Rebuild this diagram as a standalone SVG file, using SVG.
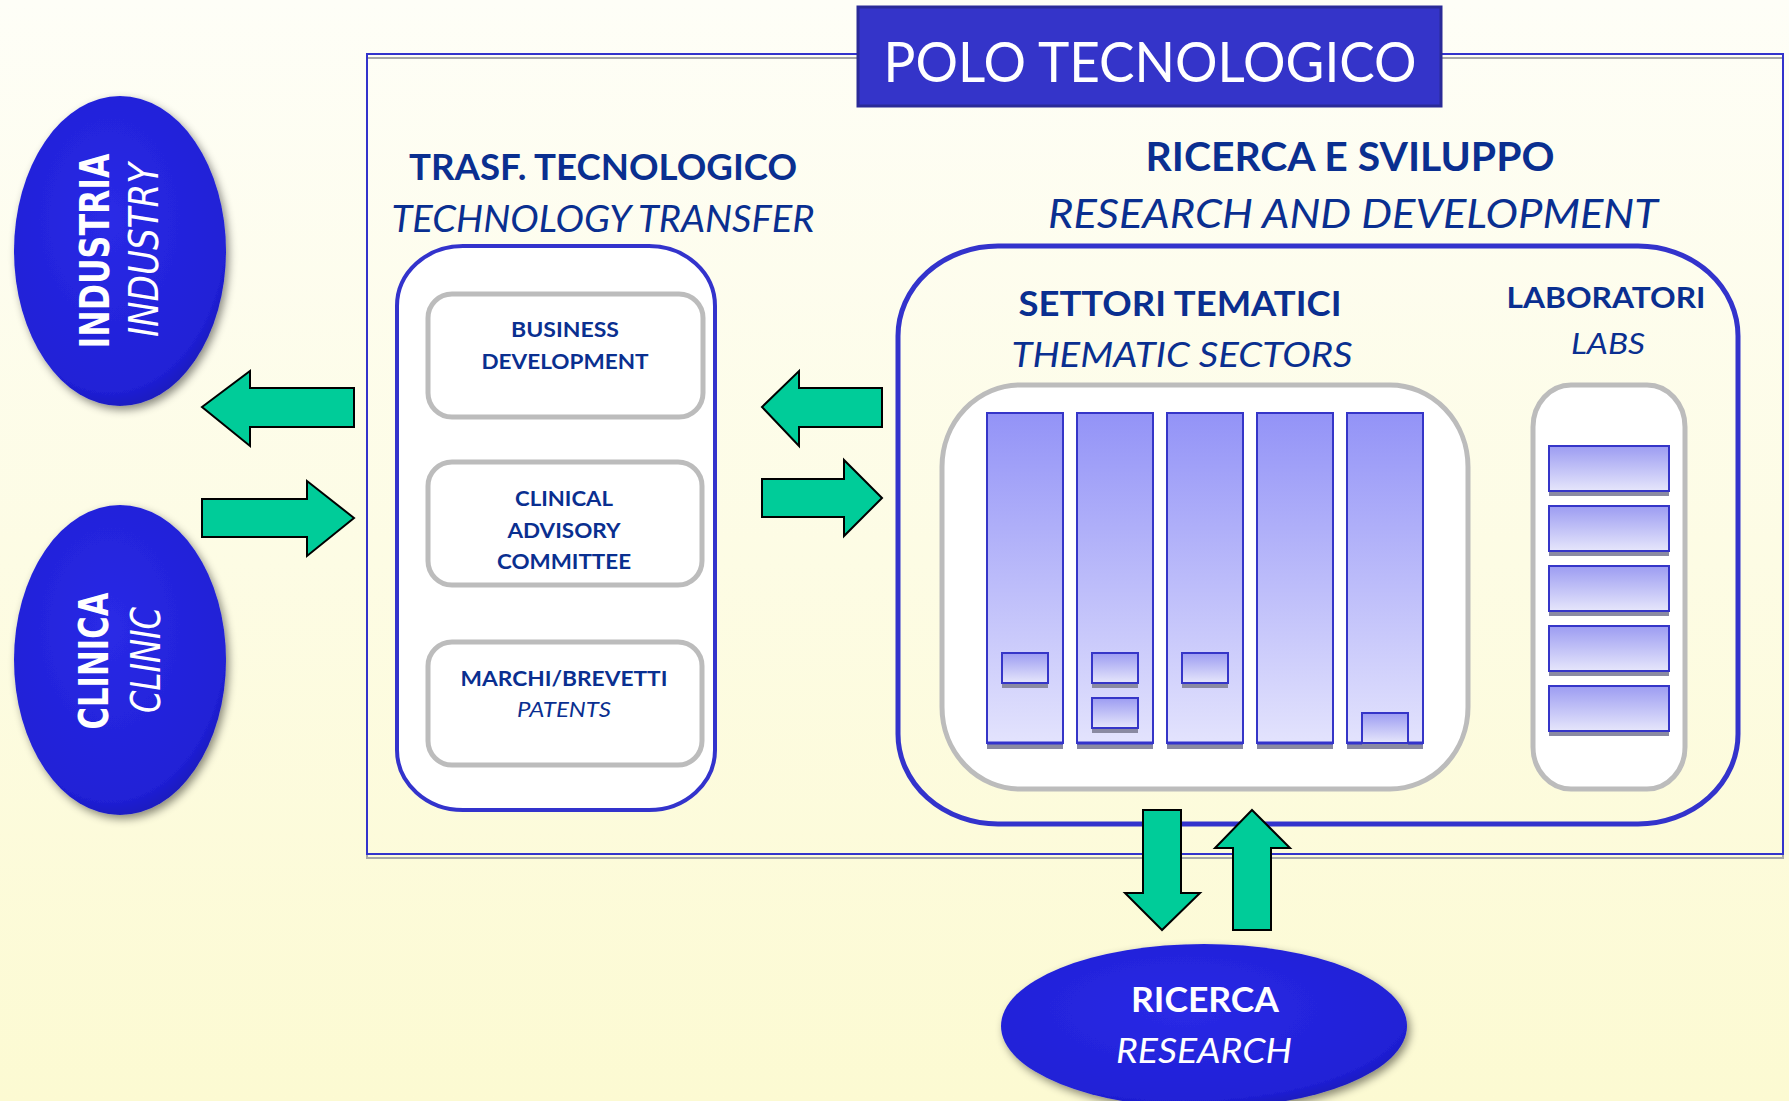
<svg xmlns="http://www.w3.org/2000/svg" width="1789" height="1101" viewBox="0 0 1789 1101">
<defs>
<linearGradient id="bg" x1="0" y1="0" x2="0" y2="1"><stop offset="0" stop-color="#fefef7"/><stop offset="1" stop-color="#fcfad2"/></linearGradient>
<linearGradient id="col" x1="0" y1="0" x2="0" y2="1"><stop offset="0" stop-color="#9393f7"/><stop offset="1" stop-color="#e3e3fd"/></linearGradient>
<linearGradient id="sq" x1="0" y1="0" x2="0" y2="1"><stop offset="0" stop-color="#9c9cf2"/><stop offset="1" stop-color="#e6e6fb"/></linearGradient>
<radialGradient id="ell" cx="0.45" cy="0.4" r="0.65"><stop offset="0" stop-color="#2a2ae6"/><stop offset="0.85" stop-color="#2020d6"/><stop offset="1" stop-color="#1818b0"/></radialGradient>
<filter id="sh" x="-20%" y="-20%" width="140%" height="140%"><feDropShadow dx="3" dy="4" stdDeviation="4" flood-color="#000" flood-opacity="0.45"/></filter>
<style>
.t{font-family:Lato,"Open Sans","Liberation Sans",sans-serif;fill:#0a2f90;text-anchor:middle}
.b{font-weight:bold}
.i{font-style:italic}
.w{fill:#ffffff}
.e{font-family:"DejaVu Sans",Verdana,sans-serif;fill:#ffffff;text-anchor:middle;font-size:40px}
.arr{fill:#00cc99;stroke:#000;stroke-width:2;stroke-linejoin:miter}
.col{fill:url(#col);stroke:#3535c8;stroke-width:2}
.sq{fill:url(#sq);stroke:#3535c8;stroke-width:2}
.shd{fill:#8a8aa2}
.gbox{fill:#ffffff;stroke:#bcbcbc;stroke-width:5}
.bbox{fill:#ffffff;stroke:#3333cc;stroke-width:4}
</style>
</defs>
<rect x="0" y="0" width="1789" height="1101" fill="url(#bg)"/>

<g id="polo-frame">
<rect x="367" y="58" width="1416" height="800" fill="none" stroke="#a8a8a8" stroke-width="2"/>
<rect x="367" y="54" width="1416" height="800" fill="none" stroke="#3333cc" stroke-width="2"/>
</g>

<g id="polo-title">
<rect x="858" y="7" width="583" height="99" fill="#3434c9" stroke="#2a2a98" stroke-width="3"/>
<text class="t w" x="1150" y="82" font-size="56" textLength="533" lengthAdjust="spacingAndGlyphs">POLO TECNOLOGICO</text>
</g>

<g id="industria">
<ellipse cx="120" cy="251" rx="106" ry="155" fill="url(#ell)" filter="url(#sh)"/>
<text class="e b" transform="translate(109,251) rotate(-90)" textLength="195" lengthAdjust="spacingAndGlyphs">INDUSTRIA</text>
<text class="e i" transform="translate(158,250) rotate(-90)" textLength="174" lengthAdjust="spacingAndGlyphs">INDUSTRY</text>
</g>

<g id="clinica">
<ellipse cx="120" cy="660" rx="106" ry="155" fill="url(#ell)" filter="url(#sh)"/>
<text class="e b" transform="translate(108,661) rotate(-90)" textLength="137" lengthAdjust="spacingAndGlyphs">CLINICA</text>
<text class="e i" transform="translate(160,660) rotate(-90)" textLength="106" lengthAdjust="spacingAndGlyphs">CLINIC</text>
</g>

<g id="ricerca">
<ellipse cx="1204" cy="1026" rx="203" ry="82" fill="url(#ell)" filter="url(#sh)"/>
<text class="t w b" x="1205" y="1012" font-size="35" textLength="148" lengthAdjust="spacingAndGlyphs">RICERCA</text>
<text class="t w i" x="1204" y="1063" font-size="35" textLength="176" lengthAdjust="spacingAndGlyphs">RESEARCH</text>
</g>

<g id="tech-transfer">
<text class="t b" x="603" y="180" font-size="36" textLength="388" lengthAdjust="spacingAndGlyphs">TRASF. TECNOLOGICO</text>
<text class="t i" x="603" y="232" font-size="36" textLength="423" lengthAdjust="spacingAndGlyphs">TECHNOLOGY TRANSFER</text>
<rect class="bbox" x="397" y="246" width="318" height="564" rx="66" ry="60"/>
</g>

<g id="business-development">
<rect class="gbox" x="428" y="294" width="275" height="123" rx="24"/>
<text class="t b" x="565" y="337" font-size="21" textLength="108" lengthAdjust="spacingAndGlyphs">BUSINESS</text>
<text class="t b" x="565" y="369" font-size="21" textLength="167" lengthAdjust="spacingAndGlyphs">DEVELOPMENT</text>
</g>

<g id="clinical-advisory">
<rect class="gbox" x="428" y="462" width="274" height="123" rx="24"/>
<text class="t b" x="564" y="506" font-size="21" textLength="98" lengthAdjust="spacingAndGlyphs">CLINICAL</text>
<text class="t b" x="564" y="538" font-size="21" textLength="113" lengthAdjust="spacingAndGlyphs">ADVISORY</text>
<text class="t b" x="564" y="569" font-size="21" textLength="134" lengthAdjust="spacingAndGlyphs">COMMITTEE</text>
</g>

<g id="patents">
<rect class="gbox" x="428" y="642" width="274" height="123" rx="24"/>
<text class="t b" x="564" y="686" font-size="21" textLength="207" lengthAdjust="spacingAndGlyphs">MARCHI/BREVETTI</text>
<text class="t i" x="564" y="717" font-size="21" textLength="94" lengthAdjust="spacingAndGlyphs">PATENTS</text>
</g>

<g id="research-development">
<text class="t b" x="1350" y="171" font-size="40" textLength="409" lengthAdjust="spacingAndGlyphs">RICERCA E SVILUPPO</text>
<text class="t i" x="1353" y="228" font-size="40" textLength="610" lengthAdjust="spacingAndGlyphs">RESEARCH AND DEVELOPMENT</text>
<rect x="898" y="246" width="840" height="578" rx="100" ry="90" fill="none" stroke="#3333cc" stroke-width="5"/>
</g>

<g id="thematic-sectors">
<text class="t b" x="1180" y="316" font-size="35" textLength="323" lengthAdjust="spacingAndGlyphs">SETTORI TEMATICI</text>
<text class="t i" x="1182" y="367" font-size="35" textLength="341" lengthAdjust="spacingAndGlyphs">THEMATIC SECTORS</text>
<rect class="gbox" x="942" y="385" width="526" height="404" rx="78" ry="82"/>
<rect class="shd" x="987" y="743" width="76" height="6"/>
<rect class="shd" x="1077" y="743" width="76" height="6"/>
<rect class="shd" x="1167" y="743" width="76" height="6"/>
<rect class="shd" x="1257" y="743" width="76" height="6"/>
<rect class="shd" x="1347" y="743" width="76" height="6"/>
<rect class="col" x="987" y="413" width="76" height="330"/>
<rect class="col" x="1077" y="413" width="76" height="330"/>
<rect class="col" x="1167" y="413" width="76" height="330"/>
<rect class="col" x="1257" y="413" width="76" height="330"/>
<rect class="col" x="1347" y="413" width="76" height="330"/>
<line x1="987" y1="743" x2="1063" y2="743" stroke="#3333cc" stroke-width="3"/>
<line x1="1077" y1="743" x2="1153" y2="743" stroke="#3333cc" stroke-width="3"/>
<line x1="1167" y1="743" x2="1243" y2="743" stroke="#3333cc" stroke-width="3"/>
<line x1="1257" y1="743" x2="1333" y2="743" stroke="#3333cc" stroke-width="3"/>
<line x1="1347" y1="743" x2="1423" y2="743" stroke="#3333cc" stroke-width="3"/>
<rect class="shd" x="1002" y="683" width="46" height="5"/>
<rect class="sq" x="1002" y="653" width="46" height="30"/>
<rect class="shd" x="1092" y="683" width="46" height="5"/>
<rect class="sq" x="1092" y="653" width="46" height="30"/>
<rect class="shd" x="1092" y="728" width="46" height="5"/>
<rect class="sq" x="1092" y="698" width="46" height="30"/>
<rect class="shd" x="1182" y="683" width="46" height="5"/>
<rect class="sq" x="1182" y="653" width="46" height="30"/>
<rect class="shd" x="1362" y="743" width="46" height="5"/>
<rect class="sq" x="1362" y="713" width="46" height="30"/>
</g>

<g id="labs">
<text class="t b" x="1606" y="308" font-size="29" textLength="199" lengthAdjust="spacingAndGlyphs">LABORATORI</text>
<text class="t i" x="1608" y="354" font-size="29" textLength="74" lengthAdjust="spacingAndGlyphs">LABS</text>
<rect class="gbox" x="1533" y="385" width="152" height="404" rx="38" ry="42"/>
<rect class="shd" x="1549" y="491" width="120" height="5"/>
<rect class="sq" x="1549" y="446" width="120" height="45"/>
<rect class="shd" x="1549" y="551" width="120" height="5"/>
<rect class="sq" x="1549" y="506" width="120" height="45"/>
<rect class="shd" x="1549" y="611" width="120" height="5"/>
<rect class="sq" x="1549" y="566" width="120" height="45"/>
<rect class="shd" x="1549" y="671" width="120" height="5"/>
<rect class="sq" x="1549" y="626" width="120" height="45"/>
<rect class="shd" x="1549" y="731" width="120" height="5"/>
<rect class="sq" x="1549" y="686" width="120" height="45"/>
</g>

<g id="connectors">
<polygon class="arr" points="202,407 250,371 250,388 354,388 354,427 250,427 250,446"/>
<polygon class="arr" points="354,518 307,481 307,499 202,499 202,537 307,537 307,556"/>
<polygon class="arr" points="762,407 799,371 799,388 882,388 882,427 799,427 799,446"/>
<polygon class="arr" points="882,498 844,460 844,479 762,479 762,517 844,517 844,536"/>
<polygon class="arr" points="1162,930 1125,893 1143,893 1143,810 1181,810 1181,893 1200,893"/>
<polygon class="arr" points="1252,810 1290,848 1271,848 1271,930 1233,930 1233,848 1215,848"/>
</g>
</svg>
